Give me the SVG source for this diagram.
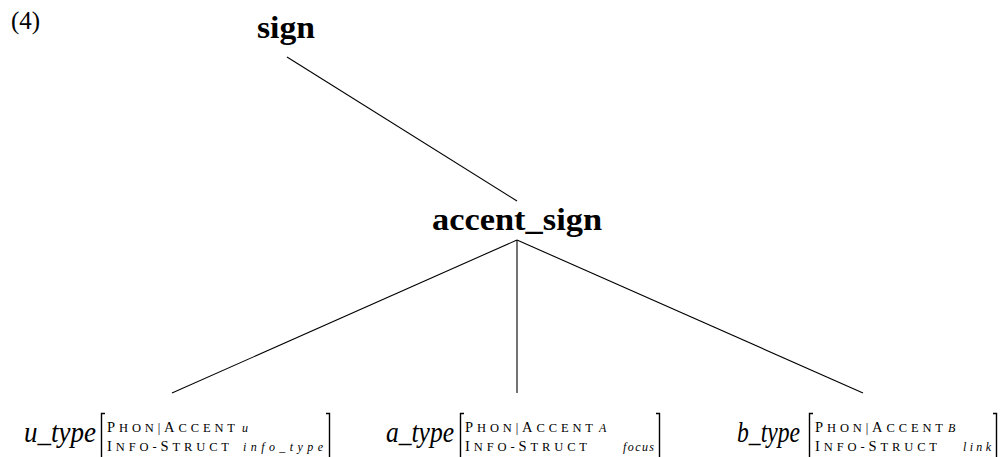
<svg xmlns="http://www.w3.org/2000/svg" width="1000" height="457" viewBox="0 0 1000 457">
<style>
.num{font-family:"Liberation Serif",serif;font-size:25px;fill:#000}
.lbl{font-family:"Liberation Serif",serif;font-size:32px;font-weight:bold;fill:#000;text-anchor:middle}
.typ{font-family:"Liberation Serif",serif;font-size:30px;font-style:italic;fill:#000}
.sc{font-family:"Liberation Serif",serif;font-size:12.5px;fill:#000}
.scb{font-size:14.5px}
.val{font-family:"Liberation Serif",serif;font-size:12px;font-style:italic;fill:#000}
.edge{stroke:#000;stroke-width:1.1;fill:none}
.br{stroke:#000;stroke-width:1.4;fill:none}
</style>
<text class="num" x="11" y="29">(4)</text>
<g id="connectors">
<line class="edge" x1="287" y1="57" x2="517" y2="201"/>
<line class="edge" x1="517" y1="240" x2="172" y2="393"/>
<line class="edge" x1="517" y1="240" x2="517" y2="393"/>
<line class="edge" x1="517" y1="240" x2="863" y2="393"/>
</g>
<g id="sign"><text class="lbl" x="286" y="38" textLength="58" lengthAdjust="spacingAndGlyphs">sign</text></g>
<g id="accent_sign"><text class="lbl" x="517" y="230" textLength="170" lengthAdjust="spacingAndGlyphs">accent_sign</text></g>
<g id="u_type">
<text class="typ" x="24" y="442" textLength="72" lengthAdjust="spacingAndGlyphs">u_type</text>
<path class="br" d="M105,413.5H101.5V460"/>
<text class="sc" x="107" y="432" textLength="128" lengthAdjust="spacing"><tspan class="scb">P</tspan>HON|<tspan class="scb">A</tspan>CCENT</text>
<text class="val" x="242" y="432">u</text>
<text class="sc" x="107" y="451" textLength="122" lengthAdjust="spacing"><tspan class="scb">I</tspan>NFO-<tspan class="scb">S</tspan>TRUCT</text>
<text class="val" x="243" y="451" textLength="80" lengthAdjust="spacing">info_type</text>
<path class="br" d="M326,413.5H329.5V460"/>
</g>
<g id="a_type">
<text class="typ" x="386" y="442" textLength="68" lengthAdjust="spacingAndGlyphs">a_type</text>
<path class="br" d="M464,413.5H460.5V460"/>
<text class="sc" x="465" y="432" textLength="128" lengthAdjust="spacing"><tspan class="scb">P</tspan>HON|<tspan class="scb">A</tspan>CCENT</text>
<text class="val" x="599" y="432">A</text>
<text class="sc" x="465" y="451" textLength="122" lengthAdjust="spacing"><tspan class="scb">I</tspan>NFO-<tspan class="scb">S</tspan>TRUCT</text>
<text class="val" x="623" y="451" textLength="31" lengthAdjust="spacing">focus</text>
<path class="br" d="M656,413.5H659.5V460"/>
</g>
<g id="b_type">
<text class="typ" x="737" y="442" textLength="63" lengthAdjust="spacingAndGlyphs">b_type</text>
<path class="br" d="M813,413.5H809.5V460"/>
<text class="sc" x="815" y="432" textLength="128" lengthAdjust="spacing"><tspan class="scb">P</tspan>HON|<tspan class="scb">A</tspan>CCENT</text>
<text class="val" x="948" y="432">B</text>
<text class="sc" x="815" y="451" textLength="122" lengthAdjust="spacing"><tspan class="scb">I</tspan>NFO-<tspan class="scb">S</tspan>TRUCT</text>
<text class="val" x="963" y="451" textLength="28" lengthAdjust="spacing">link</text>
<path class="br" d="M993,413.5H996.5V460"/>
</g>
</svg>
